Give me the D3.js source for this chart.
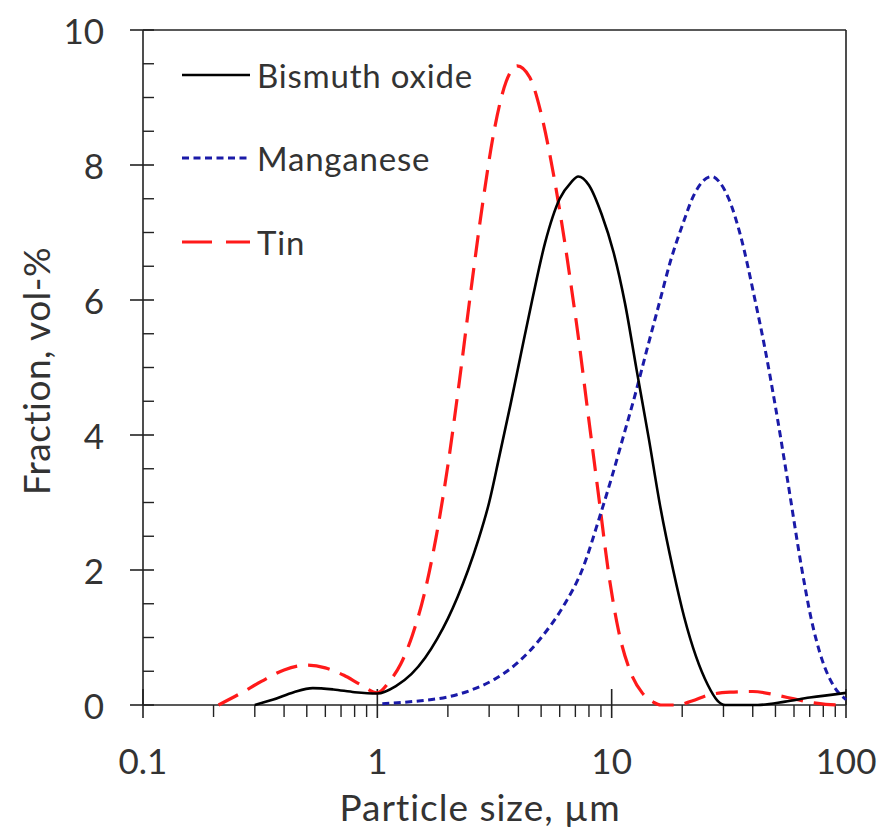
<!DOCTYPE html>
<html>
<head>
<meta charset="utf-8">
<script src="https://cdn.jsdelivr.net/npm/d3@7"></script>
<style>
  html, body { margin: 0; padding: 0; background: #fff; }
  svg text { font-family: Lato, "Open Sans", sans-serif; fill: #333; }
</style>
</head>
<body>
<svg id="chart" width="885" height="832"></svg>
<script>
// ---- Data ----
const seriesNames = ["Bismuth oxide", "Manganese", "Tin"];

const bismuthSize = [0.3, 0.36, 0.44, 0.53, 0.65, 0.8, 1.0, 1.2, 1.4, 1.6, 1.8, 2.0, 2.2, 2.44, 2.7, 3.0, 3.3, 3.7, 4.1, 4.58, 5.2, 6.0, 6.7, 7.2, 8.0, 9.06, 10.2, 11.4, 12.8, 14.4, 16.1, 18.3, 20.4, 22.9, 25.7, 28.2, 30.5, 42, 55, 70, 100];
const bismuthFraction = [0, 0.08, 0.19, 0.25, 0.23, 0.19, 0.17, 0.28, 0.46, 0.7, 0.98, 1.28, 1.6, 2.0, 2.45, 3.0, 3.65, 4.45, 5.2, 6.0, 6.85, 7.5, 7.74, 7.83, 7.7, 7.27, 6.7, 5.95, 4.95, 3.95, 2.95, 2.0, 1.3, 0.72, 0.3, 0.07, 0, 0, 0.05, 0.11, 0.18];

const manganeseSize = [1.05, 1.5, 2.0, 2.51, 3.16, 3.98, 5.01, 6.31, 7.48, 8.91, 10, 11.2, 12.6, 14.1, 16.1, 17.8, 20, 22.4, 24.5, 26.8, 28.8, 31.6, 35.5, 40.9, 44.7, 50.1, 56.2, 64.9, 70.8, 79.4, 89.1, 100];
const manganeseFraction = [0.02, 0.06, 0.12, 0.22, 0.38, 0.63, 1.0, 1.5, 2.0, 2.8, 3.37, 3.97, 4.6, 5.25, 6.0, 6.57, 7.1, 7.55, 7.76, 7.83, 7.75, 7.5, 6.95, 6.0, 5.35, 4.4, 3.35, 2.0, 1.3, 0.65, 0.27, 0.08];

const tinSize = [0.21, 0.26, 0.32, 0.4, 0.5, 0.6, 0.72, 0.85, 1.0, 1.12, 1.26, 1.41, 1.585, 1.78, 2.0, 2.24, 2.51, 2.82, 3.16, 3.55, 3.95, 4.47, 5.01, 5.62, 6.31, 6.85, 7.08, 7.94, 8.91, 9.66, 10.7, 12.0, 13.5, 15.1, 16.2, 19, 22, 26, 32, 40, 50, 60, 70, 82, 100];
const tinFraction = [0, 0.17, 0.35, 0.52, 0.59, 0.55, 0.44, 0.3, 0.18, 0.34, 0.61, 1.03, 1.64, 2.48, 3.55, 4.8, 6.15, 7.45, 8.53, 9.24, 9.47, 9.3, 8.75, 7.9, 6.85, 6.0, 5.65, 4.3, 2.95, 2.0, 1.1, 0.5, 0.18, 0.04, 0, 0, 0.06, 0.15, 0.19, 0.2, 0.15, 0.09, 0.04, 0.01, 0];

const xMajorTicks = [0.1, 1, 10, 100];
const xTickLabels = ["0.1", "1", "10", "100"];
const yMajorTicks = [0, 2, 4, 6, 8, 10];
const yTickLabels = ["0", "2", "4", "6", "8", "10"];
const xTitle = "Particle size, µm";
const yTitle = "Fraction, vol-%";

// ---- Layout ----
const W = 885, H = 832;
const mLeft = 143, mRight = 846, mTop = 30, mBottom = 705;

const svg = d3.select("#chart");
svg.append("rect").attr("width", W).attr("height", H).attr("fill", "#fff");

const x = d3.scaleLog().domain([0.1, 100]).range([mLeft, mRight]);
const y = d3.scaleLinear().domain([0, 10]).range([mBottom, mTop]);

const axisColor = "#222";
const g = svg.append("g");

// frame
g.append("line").attr("x1", mLeft).attr("x2", mRight).attr("y1", mTop).attr("y2", mTop)
  .attr("stroke", axisColor).attr("stroke-width", 1.6);
g.append("line").attr("x1", mRight).attr("x2", mRight).attr("y1", mTop).attr("y2", mBottom)
  .attr("stroke", axisColor).attr("stroke-width", 1.6);
g.append("line").attr("x1", mLeft).attr("x2", mRight).attr("y1", mBottom).attr("y2", mBottom)
  .attr("stroke", axisColor).attr("stroke-width", 1.6);
g.append("line").attr("x1", mLeft).attr("x2", mLeft).attr("y1", mTop).attr("y2", mBottom)
  .attr("stroke", axisColor).attr("stroke-width", 1.6);

// x minor ticks
const xMinor = [];
[0.1, 1, 10].forEach(d => { for (let k = 2; k <= 9; k++) xMinor.push(d * k); });
g.selectAll(".xminor").data(xMinor).join("line")
  .attr("x1", d => x(d)).attr("x2", d => x(d))
  .attr("y1", mBottom).attr("y2", mBottom + 12)
  .attr("stroke", axisColor).attr("stroke-width", 1.4);
// x major ticks (crossing)
g.selectAll(".xmajor").data(xMajorTicks).join("line")
  .attr("x1", d => x(d)).attr("x2", d => x(d))
  .attr("y1", mBottom - 16).attr("y2", mBottom + 13)
  .attr("stroke", axisColor).attr("stroke-width", 1.6);
g.selectAll(".xlab").data(xMajorTicks).join("text")
  .attr("x", d => x(d)).attr("y", 760)
  .attr("text-anchor", "middle").attr("dominant-baseline", "central")
  .attr("font-size", 35)
  .text((d, i) => xTickLabels[i]);

// y ticks
const yMinor = d3.range(0.5, 10, 0.5).filter(v => v % 2 !== 0);
g.selectAll(".yminor").data(yMinor).join("line")
  .attr("x1", mLeft).attr("x2", mLeft + 11)
  .attr("y1", d => y(d)).attr("y2", d => y(d))
  .attr("stroke", axisColor).attr("stroke-width", 1.4);
g.selectAll(".ymajor").data(yMajorTicks).join("line")
  .attr("x1", mLeft - 13).attr("x2", mLeft + 11)
  .attr("y1", d => y(d)).attr("y2", d => y(d))
  .attr("stroke", axisColor).attr("stroke-width", 1.6);
g.selectAll(".ylab").data(yMajorTicks).join("text")
  .attr("x", 104).attr("y", d => y(d))
  .attr("text-anchor", "end").attr("dominant-baseline", "central")
  .attr("font-size", 35)
  .text((d, i) => yTickLabels[i]);

// titles
svg.append("text").attr("x", 480).attr("y", 806)
  .attr("text-anchor", "middle").attr("dominant-baseline", "central")
  .attr("font-size", 37).attr("letter-spacing", 1).text(xTitle);
svg.append("text").attr("transform", "translate(35,371) rotate(-90)")
  .attr("text-anchor", "middle").attr("dominant-baseline", "central")
  .attr("font-size", 37).attr("letter-spacing", 0.5).text(yTitle);

// ---- Series ----
const styles = [
  { color: "#000000", width: 2.6, dash: null },
  { color: "#1a1aa8", width: 3, dash: "7,4.5" },
  { color: "#ff1a1a", width: 3.2, dash: "22,11" }
];
const seriesData = [
  d3.zip(bismuthSize, bismuthFraction),
  d3.zip(manganeseSize, manganeseFraction),
  d3.zip(tinSize, tinFraction)
];

const line = d3.line()
  .x(d => x(d[0])).y(d => y(d[1]))
  .curve(d3.curveMonotoneX);

const plot = svg.append("g");
[2, 1, 0].forEach(i => {
  plot.append("path")
    .attr("d", line(seriesData[i]))
    .attr("fill", "none")
    .attr("stroke", styles[i].color)
    .attr("stroke-width", styles[i].width)
    .attr("stroke-dasharray", styles[i].dash)
    .attr("stroke-linecap", "butt");
});

// ---- Legend ----
const legendY = [75, 158, 242];
const leg = svg.append("g");
seriesNames.forEach((name, i) => {
  leg.append("line")
    .attr("x1", 182).attr("x2", 250)
    .attr("y1", legendY[i]).attr("y2", legendY[i])
    .attr("stroke", styles[i].color)
    .attr("stroke-width", styles[i].width)
    .attr("stroke-dasharray", i === 2 ? "30,14" : styles[i].dash);
  leg.append("text")
    .attr("x", 257).attr("y", legendY[i])
    .attr("dominant-baseline", "central")
    .attr("font-size", 33).attr("letter-spacing", 0.8)
    .text(name);
});
</script>
</body>
</html>
